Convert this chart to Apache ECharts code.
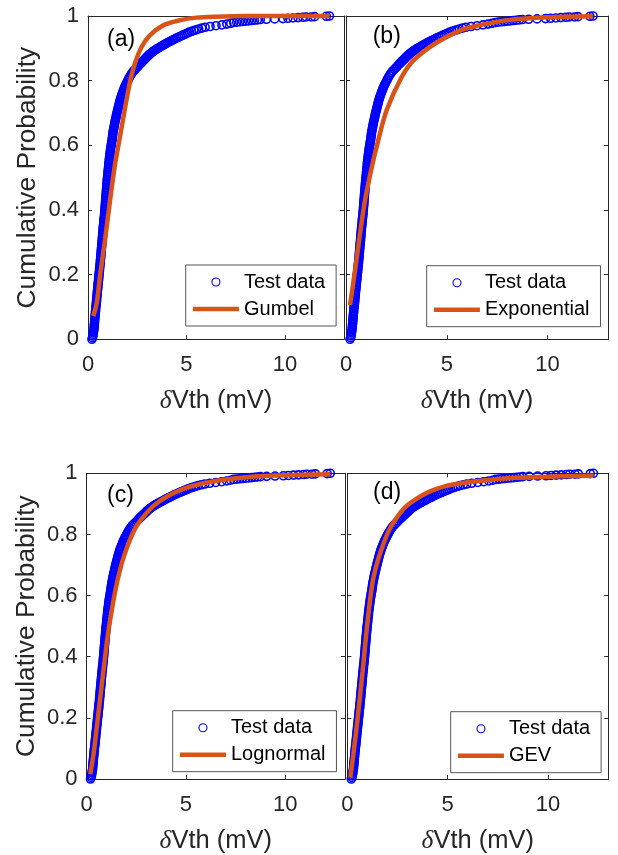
<!DOCTYPE html>
<html><head><meta charset="utf-8">
<script src="https://cdn.jsdelivr.net/npm/echarts@6/dist/echarts.min.js"></script>
<style>html,body{margin:0;padding:0;background:#fff}#c{width:618px;height:855px}</style>
</head><body><div id="c"></div>
<script>
// Empirical CDF of the test data: [deltaVth (mV), cumulative probability]
const testData = [
[0.20,0],[0.23,0.005],[0.25,0.01],[0.26,0.015],[0.275,0.02],[0.285,0.025],[0.30,0.03],[0.31,0.035],[0.315,0.04],[0.32,0.045],
[0.33,0.05],[0.335,0.055],[0.34,0.06],[0.35,0.065],[0.355,0.07],[0.365,0.075],[0.37,0.08],[0.38,0.085],[0.385,0.09],[0.39,0.095],
[0.40,0.10],[0.41,0.105],[0.42,0.11],[0.43,0.115],[0.435,0.12],[0.44,0.125],[0.45,0.13],[0.46,0.135],[0.465,0.14],[0.47,0.145],
[0.48,0.15],[0.49,0.155],[0.50,0.16],[0.505,0.165],[0.51,0.17],[0.52,0.175],[0.53,0.18],[0.54,0.185],[0.545,0.19],[0.55,0.195],
[0.56,0.20],[0.57,0.205],[0.58,0.21],[0.585,0.215],[0.59,0.22],[0.60,0.225],[0.61,0.23],[0.62,0.235],[0.625,0.24],[0.63,0.245],
[0.64,0.25],[0.65,0.255],[0.655,0.26],[0.66,0.265],[0.67,0.27],[0.675,0.275],[0.68,0.28],[0.69,0.285],[0.695,0.29],[0.70,0.295],
[0.71,0.30],[0.72,0.305],[0.725,0.31],[0.73,0.315],[0.74,0.32],[0.745,0.325],[0.75,0.33],[0.76,0.335],[0.765,0.34],[0.77,0.345],
[0.78,0.35],[0.79,0.355],[0.80,0.36],[0.805,0.365],[0.81,0.37],[0.82,0.375],[0.83,0.38],[0.84,0.385],[0.845,0.39],[0.85,0.395],
[0.86,0.40],[0.865,0.405],[0.87,0.41],[0.88,0.415],[0.885,0.42],[0.89,0.425],[0.895,0.43],[0.90,0.435],[0.91,0.44],[0.915,0.445],
[0.92,0.45],[0.93,0.455],[0.935,0.46],[0.94,0.465],[0.95,0.47],[0.955,0.475],[0.96,0.48],[0.97,0.485],[0.975,0.49],[0.98,0.495],
[0.99,0.50],[1.00,0.505],[1.01,0.51],[1.015,0.515],[1.02,0.52],[1.03,0.525],[1.04,0.53],[1.05,0.535],[1.055,0.54],[1.06,0.545],
[1.07,0.55],[1.08,0.555],[1.09,0.56],[1.10,0.565],[1.11,0.57],[1.12,0.575],[1.13,0.58],[1.14,0.585],[1.15,0.59],[1.165,0.595],
[1.18,0.60],[1.19,0.605],[1.20,0.61],[1.22,0.615],[1.23,0.62],[1.24,0.625],[1.25,0.63],[1.26,0.635],[1.27,0.64],[1.285,0.645],
[1.30,0.65],[1.32,0.655],[1.33,0.66],[1.35,0.665],[1.36,0.67],[1.38,0.675],[1.40,0.68],[1.42,0.685],[1.43,0.69],[1.45,0.695],
[1.47,0.70],[1.49,0.705],[1.51,0.71],[1.53,0.715],[1.55,0.72],[1.57,0.725],[1.59,0.73],[1.61,0.735],[1.63,0.74],[1.66,0.745],
[1.68,0.75],[1.71,0.755],[1.74,0.76],[1.77,0.765],[1.80,0.77],[1.83,0.775],[1.86,0.78],[1.90,0.785],[1.94,0.79],[1.98,0.795],
[2.02,0.80],[2.06,0.805],[2.10,0.81],[2.15,0.815],[2.20,0.82],[2.25,0.825],[2.32,0.83],[2.40,0.835],[2.48,0.84],[2.55,0.845],
[2.62,0.85],[2.66,0.8525],[2.70,0.855],[2.74,0.8575],[2.78,0.86],[2.82,0.8625],[2.86,0.865],[2.90,0.8675],[2.94,0.87],[2.98,0.8725],
[3.02,0.875],[3.06,0.8775],[3.10,0.88],[3.15,0.8825],[3.20,0.885],[3.25,0.8875],[3.30,0.89],[3.36,0.8925],[3.42,0.895],[3.48,0.8975],
[3.55,0.90],[3.62,0.9025],[3.69,0.905],[3.76,0.9075],[3.83,0.91],[3.90,0.9125],[3.97,0.915],[4.04,0.9175],[4.12,0.92],[4.20,0.9225],
[4.28,0.925],[4.36,0.9275],[4.44,0.93],[4.52,0.9325],[4.61,0.935],[4.70,0.9375],[4.79,0.94],[4.88,0.9425],[4.97,0.945],[5.06,0.9475],
[5.15,0.95],[5.26,0.9525],[5.38,0.955],[5.50,0.9575],[5.62,0.96],[5.78,0.9625],[5.95,0.965],[6.20,0.9675],[6.50,0.97],[6.80,0.9725],
[7.05,0.975],[7.25,0.9775],[7.40,0.98],
[7.55,0.981],[7.70,0.982],[7.85,0.983],[8.00,0.984],[8.15,0.985],[8.30,0.986],[8.45,0.987],[8.60,0.988],[8.75,0.989],[9.06,0.990],
[9.48,0.991],[9.90,0.992],[10.15,0.993],[10.41,0.994],[10.66,0.995],[10.91,0.996],[11.08,0.997],[11.34,0.997],[11.51,0.998],[12.10,0.999],
[12.26,1.0]
];
const gumbelFit = [[0.27,0.072],[0.44,0.111],[0.62,0.2],[0.87,0.31],[1.12,0.43],[1.37,0.54],[1.59,0.615],[1.88,0.715],[2.13,0.795],[2.38,0.853],[2.72,0.904],[3.14,0.94],[3.82,0.971],[4.66,0.987],[5.5,0.995],[6.5,0.998],[8.0,1.0],[10.0,1.0],[12.26,1.0]];
const exponentialFit = [[0.2,0.106],[0.45,0.214],[0.89,0.41],[1.2,0.51],[1.56,0.606],[2.02,0.709],[2.77,0.812],[3.35,0.863],[4.5,0.918],[5.66,0.955],[6.66,0.972],[8.15,0.988],[10.0,0.996],[12.26,0.999]];
const lognormalFit = [[0.19,0.016],[0.35,0.08],[0.5,0.16],[0.65,0.243],[0.9,0.38],[1.05,0.46],[1.2,0.525],[1.46,0.62],[1.75,0.70],[2.05,0.76],[2.45,0.82],[2.89,0.86],[3.4,0.895],[4.07,0.925],[4.9,0.95],[5.76,0.966],[7.0,0.98],[8.3,0.989],[10.0,0.994],[12.26,0.997]];
const gevFit = [[0.15,0.005],[0.3,0.08],[0.5,0.19],[0.76,0.35],[1.0,0.51],[1.25,0.64],[1.5,0.71],[1.75,0.76],[2.05,0.81],[2.41,0.85],[2.9,0.89],[3.4,0.915],[4.1,0.94],[4.89,0.958],[5.7,0.968],[6.53,0.975],[8.18,0.985],[9.5,0.988],[10.66,0.99],[12.26,0.992]];

const xTickLabels = [0, 5, 10];
const yTickLabels = [0, 0.2, 0.4, 0.6, 0.8, 1];
const panelLabels = ['(a)', '(b)', '(c)', '(d)'];
const fitNames = ['Gumbel', 'Exponential', 'Lognormal', 'GEV'];
const fits = [gumbelFit, exponentialFit, lognormalFit, gevFit];

const FONT = "'Liberation Sans', Arial, sans-serif";
const AX = '#262626';
const BLUE = '#0000ff';
const ORANGE = '#D95319';
const grids = [
  {left: 88, top: 16, width: 256, height: 323.3},
  {left: 346, top: 16, width: 262, height: 323.3},
  {left: 86.5, top: 473.3, width: 258.5, height: 308.4},
  {left: 347.3, top: 473.3, width: 261, height: 308.4}
];
const labelPos = [[107, 28], [372.7, 25.5], [107, 484], [373, 481]];
const legendPos = [[185.7, 265], [426.7, 265.7], [172.7, 710.7], [450.7, 711.7]];

const xAxes = [], yAxes = [], series = [], titles = [], legends = [];
grids.forEach((g, i) => {
  const lineCfg = {show: true, onZero: false, lineStyle: {color: AX, width: 1}};
  const tickCfg = {show: true, inside: true, length: 4, lineStyle: {color: AX, width: 1}};
  xAxes.push({
    gridIndex: i, type: 'value', min: 0, max: 13, interval: 5, position: 'bottom',
    axisLine: lineCfg, axisTick: tickCfg, splitLine: {show: false},
    axisLabel: {margin: 15, fontSize: 22, color: AX, fontFamily: FONT,
      formatter: v => xTickLabels.includes(v) ? String(v) : ''},
    name: '{d|δ}Vth (mV)', nameLocation: 'middle', nameGap: 49,
    nameTextStyle: {fontSize: 25.5, color: AX, fontFamily: FONT,
      rich: {d: {fontSize: 25.5, color: AX, fontStyle: 'italic', fontFamily: "'Liberation Serif', serif"}}}
  });
  xAxes.push({
    gridIndex: i, type: 'value', min: 0, max: 13, interval: 5, position: 'top',
    axisLine: lineCfg, axisTick: tickCfg, splitLine: {show: false}, axisLabel: {show: false}
  });
  const left = i % 2 === 0;
  yAxes.push({
    gridIndex: i, type: 'value', min: 0, max: 1, interval: 0.2, position: 'left',
    axisLine: lineCfg, axisTick: tickCfg, splitLine: {show: false},
    axisLabel: {show: left, margin: 9, fontSize: 22, color: AX, fontFamily: FONT,
      formatter: v => { const t = yTickLabels.find(s => Math.abs(s - v) < 1e-9); return t === undefined ? '' : String(t); }},
    name: left ? 'Cumulative Probability' : '', nameLocation: 'middle', nameGap: 47,
    nameTextStyle: {fontSize: 26.3, color: AX, fontFamily: FONT}
  });
  yAxes.push({
    gridIndex: i, type: 'value', min: 0, max: 1, interval: 0.2, position: 'right',
    axisLine: lineCfg, axisTick: tickCfg, splitLine: {show: false}, axisLabel: {show: false}
  });
  series.push({
    type: 'scatter', name: 'Test data', xAxisIndex: 2 * i, yAxisIndex: 2 * i,
    data: testData, symbol: 'circle', symbolSize: 8, clip: false, silent: true,
    itemStyle: {color: 'rgba(0,0,0,0)', borderColor: BLUE, borderWidth: 1.6, opacity: 1}
  });
  series.push({
    type: 'line', name: fitNames[i], xAxisIndex: 2 * i, yAxisIndex: 2 * i,
    data: fits[i], symbol: 'none', showSymbol: false, smooth: 0.3, clip: false, silent: true,
    lineStyle: {color: ORANGE, width: 4.5}, itemStyle: {color: ORANGE}
  });
  titles.push({
    text: panelLabels[i], left: labelPos[i][0], top: labelPos[i][1], padding: 0,
    textStyle: {fontSize: 23, fontWeight: 'normal', color: '#000', fontFamily: FONT}
  });
  legends.push({
    orient: 'vertical', left: legendPos[i][0], top: legendPos[i][1],
    padding: [7, 11, 7, 5], itemGap: 7, itemWidth: 46, itemHeight: 8,
    backgroundColor: '#fff', borderColor: '#555', borderWidth: 1, borderRadius: 0,
    selectedMode: false,
    textStyle: {fontSize: 20, color: '#000', fontFamily: FONT},
    data: [
      {name: 'Test data', itemStyle: {color: 'rgba(0,0,0,0)', borderColor: BLUE, borderWidth: 1.1}},
      {name: fitNames[i], itemStyle: {opacity: 0}, lineStyle: {width: 4.5, color: ORANGE}}
    ]
  });
});

const chart = echarts.init(document.getElementById('c'), null, {renderer: 'canvas'});
chart.setOption({
  animation: false,
  backgroundColor: '#fff',
  title: titles,
  legend: legends,
  grid: grids.map(g => Object.assign({containLabel: false}, g)),
  xAxis: xAxes,
  yAxis: yAxes,
  series: series
});
</script>
</body></html>
